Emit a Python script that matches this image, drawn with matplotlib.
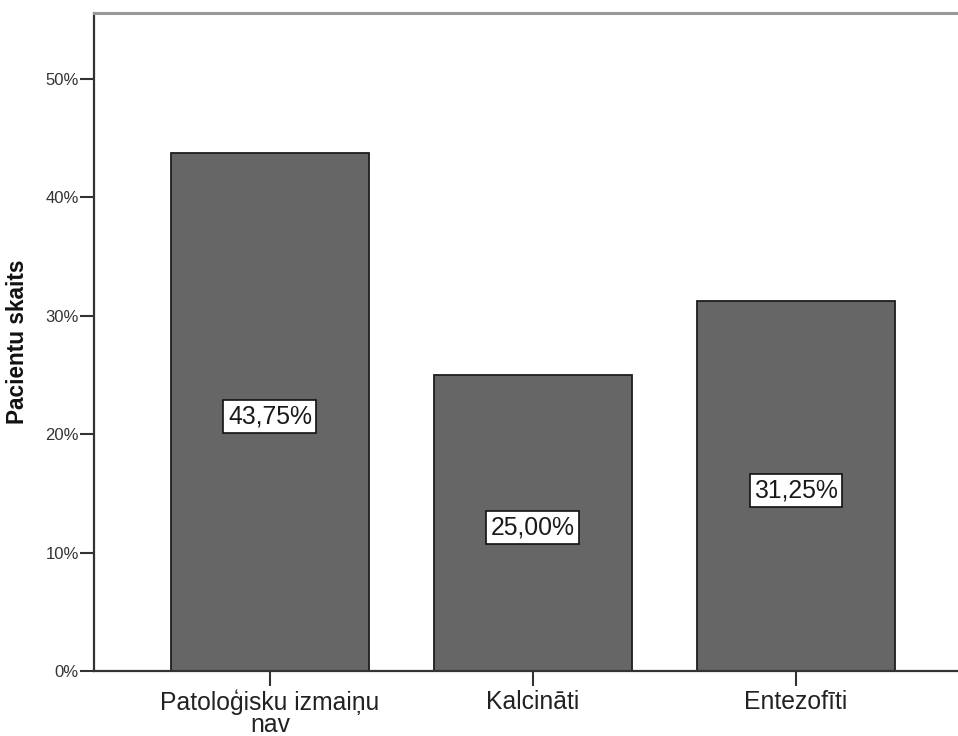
import matplotlib
matplotlib.use("Agg")
import matplotlib.pyplot as plt
from matplotlib.ticker import FuncFormatter

plt.rcParams['font.family'] = ['Liberation Sans', 'DejaVu Sans']

categories = ["Patoloģisku izmaiņu\nnav", "Kalcināti", "Entezofīti"]
values = [43.75, 25.00, 31.25]
y_ticks = [0, 10, 20, 30, 40, 50]
y_label = "Pacientu skaits"

W, H = 958, 736
fig = plt.figure(figsize=(W / 100, H / 100), dpi=100)

left_px, right_px, top_px, bottom_px = 94, 980, 13, 671
ax = fig.add_axes([left_px / W, 1 - bottom_px / H,
                   (right_px - left_px) / W, (bottom_px - top_px) / H])

x = list(range(len(categories)))
bars = ax.bar(x, values, width=0.753, color="#666666",
              edgecolor="#1e1e1e", linewidth=1.3, zorder=2)

for xi, v in zip(x, values):
    ax.text(xi, v / 2 - 0.4, f"{v:.2f}%".replace(".", ","),
            ha="center", va="center", fontsize=17.8, color="#1a1a1a",
            bbox=dict(boxstyle="square,pad=0.18", facecolor="white",
                      edgecolor="#111111", linewidth=1.2), zorder=3)

ax.set_xlim(-0.669, 2.7)
ax.set_ylim(0, 55.57)
ax.set_yticks(y_ticks)
ax.yaxis.set_major_formatter(FuncFormatter(lambda v, p: f"{v:.0f}%"))
ax.set_xticks(x)
ax.set_xticklabels(categories, fontsize=17.8, color="#222222", linespacing=0.88)

ax.tick_params(axis="y", length=10, width=1.5, color="#333333",
               labelsize=12, labelcolor="#333333", pad=1)
ax.tick_params(axis="x", length=11, width=1.5, color="#333333", pad=2.5)

ax.spines["left"].set_color("#333333")
ax.spines["left"].set_linewidth(1.6)
ax.spines["bottom"].set_color("#333333")
ax.spines["bottom"].set_linewidth(1.6)
ax.spines["top"].set_color("#999999")
ax.spines["top"].set_linewidth(2.2)
ax.spines["right"].set_visible(False)

ax.set_ylabel(y_label, fontsize=16.3, fontweight="bold", color="#111111")
ax.yaxis.set_label_coords(-(94 - 29) / (right_px - left_px), 0.5)

fig.savefig("out.png", dpi=100, facecolor="white")
